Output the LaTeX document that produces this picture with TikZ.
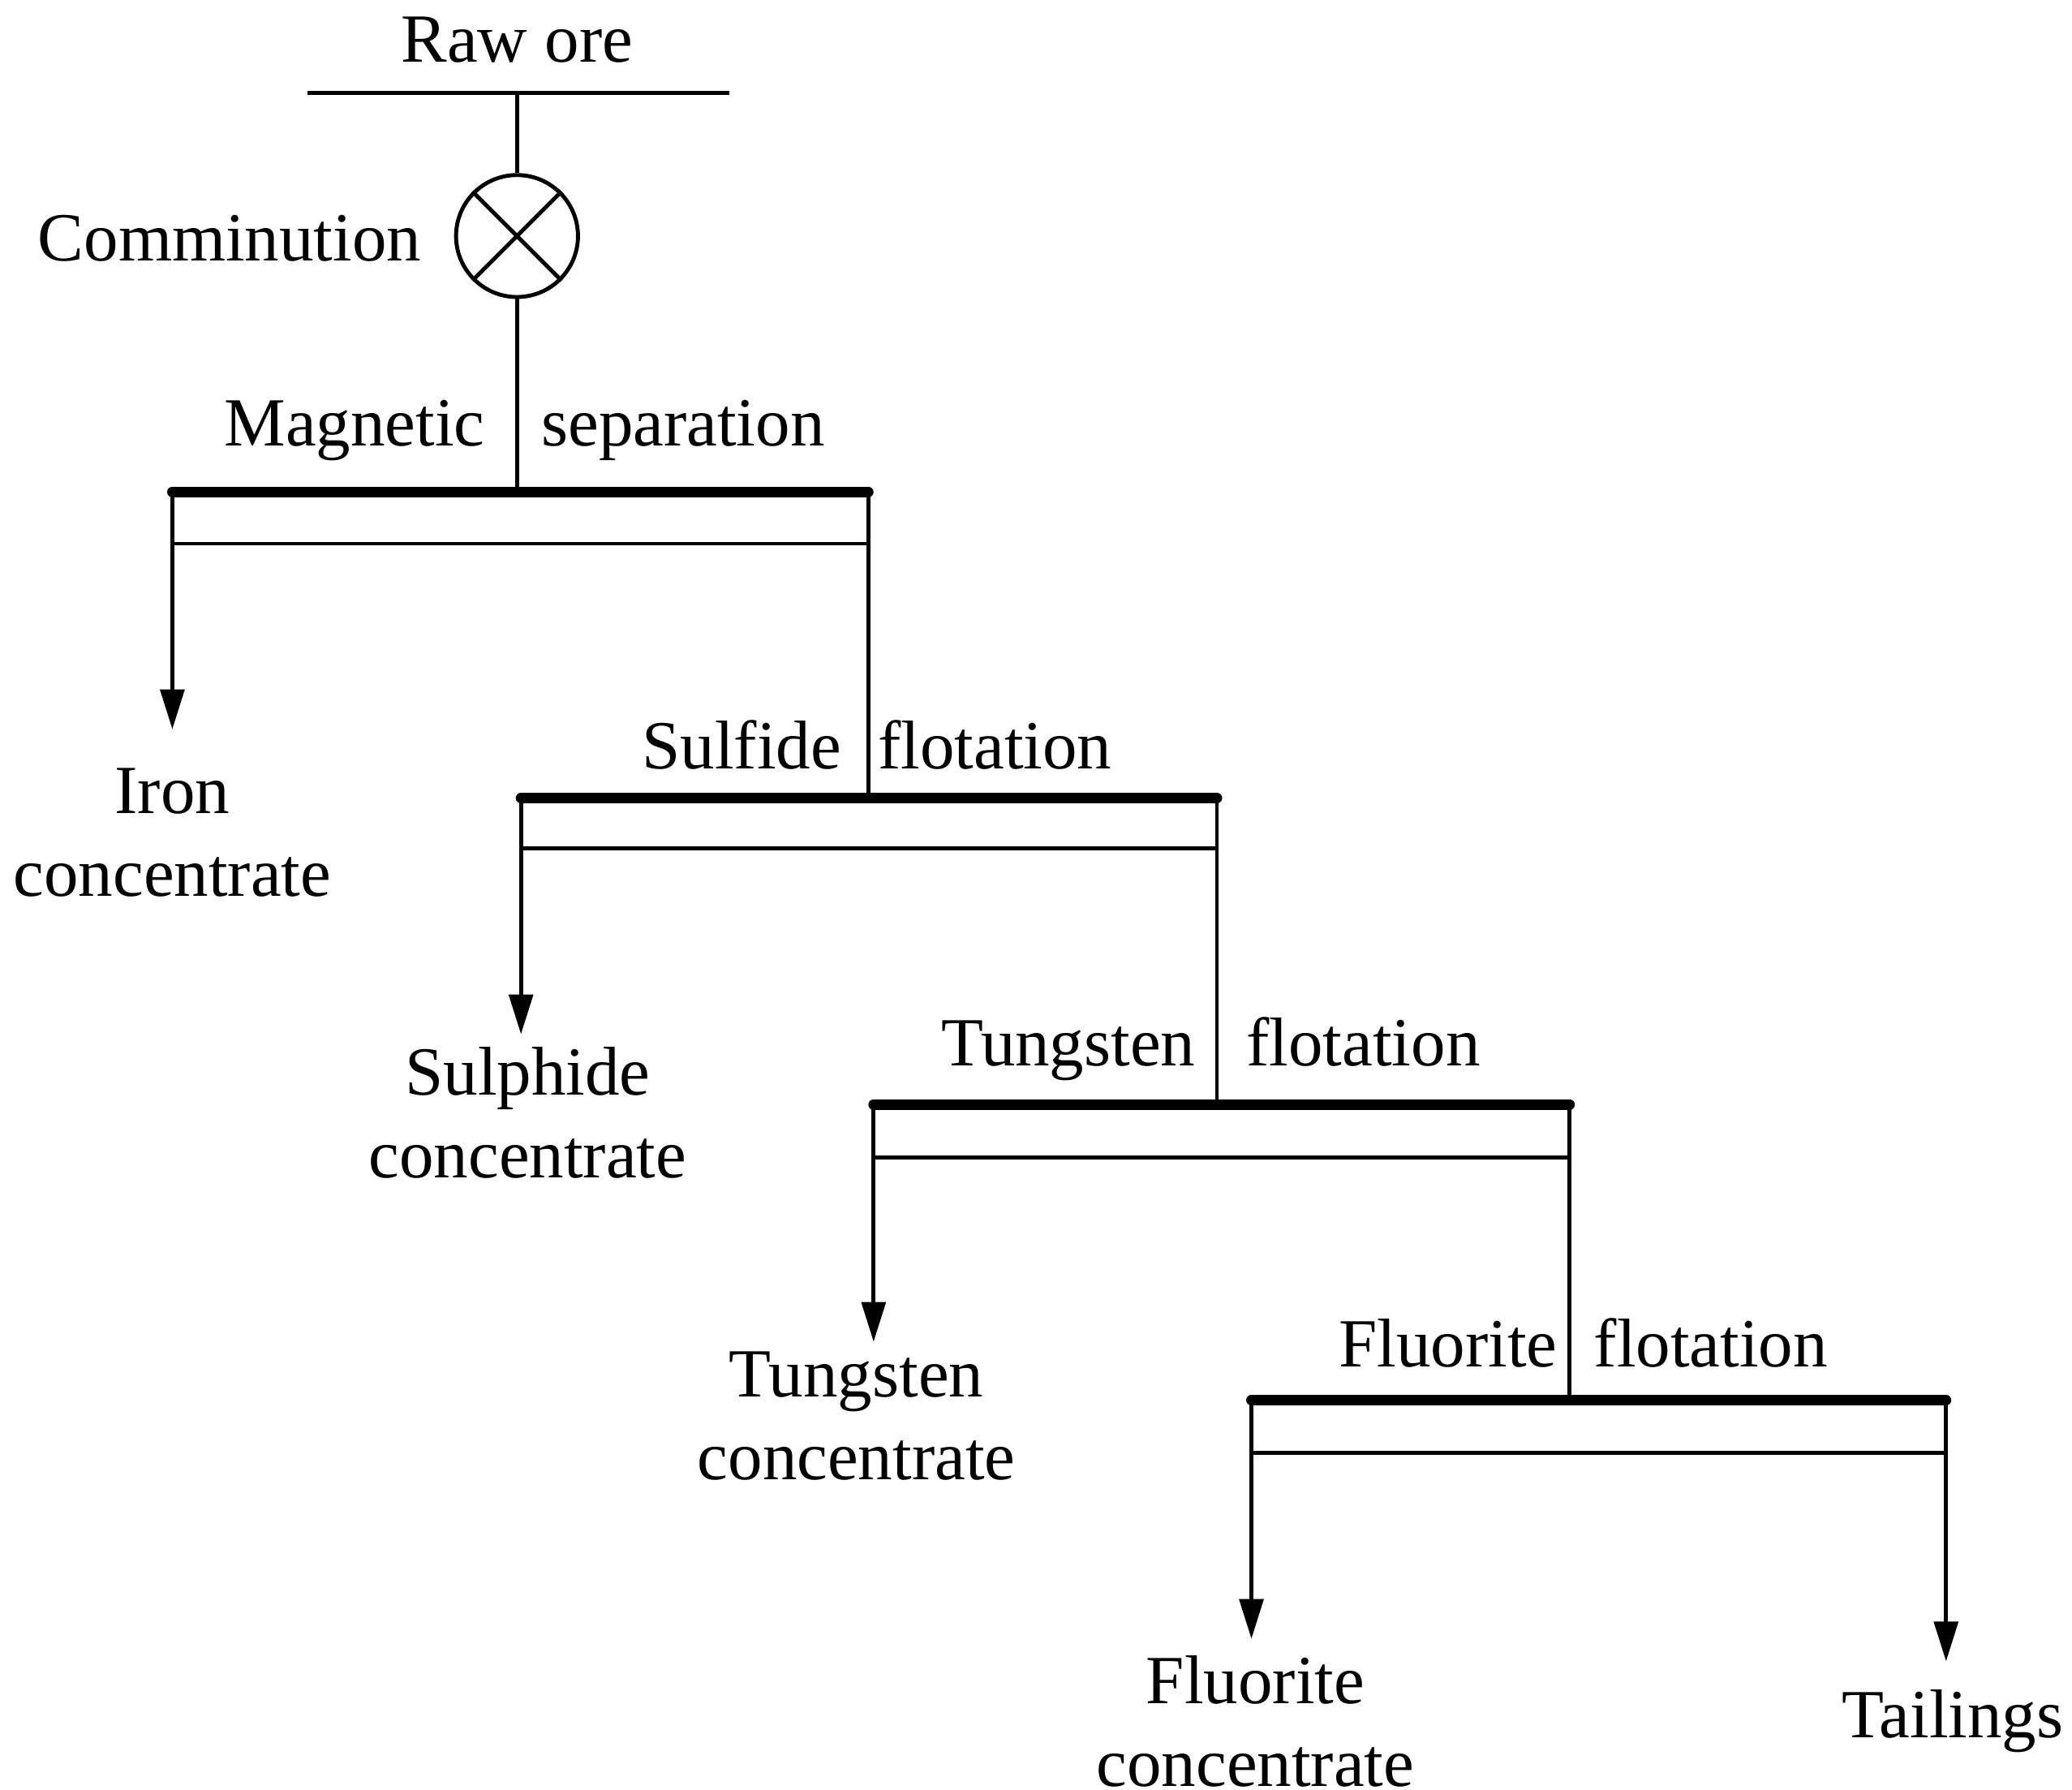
\documentclass[tikz,border=0pt]{standalone}
\usepackage{fontspec}
\setmainfont{Liberation Serif}
\usetikzlibrary{arrows.meta}
\begin{document}
\begin{tikzpicture}[x=0.02cm,y=-0.02cm,
  thin line/.style={line width=1.7pt},
  thick line/.style={line width=4.5pt},
  arr/.style={line width=1.7pt,-{Triangle[length=0.6cm,width=0.36cm]}},
  lbl/.style={font=\fontsize{29.6pt}{36pt}\selectfont,inner sep=0pt},
  two/.style={lbl,align=center,font=\fontsize{29.6pt}{35.5pt}\selectfont}]
\useasboundingbox (0,0) rectangle (1563,1350);
\node[lbl] (raw) at (390,30) {Raw ore};
\draw[thin line] (232,70) -- (550,70);
\node[circle,draw,line width=1.7pt,minimum size=1.84cm,inner sep=0pt] (c) at (390,178) {};
\draw[thin line] (c.north west) -- (c.south east) (c.north east) -- (c.south west);
\draw[thin line] (390,70) -- (c.north);
\node[lbl,anchor=east] (com) at (318,180) {Comminution};
\draw[thin line] (c.south) -- (390,371);
% stages
\foreach \xl/\xr/\yt/\yb/\ya/\yn/\ly/\la/\lb/\le/\lsb in {
  130/655/371/410/550/602/322/Magnetic/separation/366/408,
  393/918/602/640/780/833/566/Sulfide/flotation/635/662,
  659/1184/833/873/1012/1056/790/Tungsten/flotation/902/940,
  944/1468/1056/1096/1236/1253/1017/Fluorite/flotation/1175/1202}{
  \draw[thin line] (\xl,\yt) -- (\xl,\yb) -- (\xr,\yb) -- (\xr,\yt);
  \draw[thick line,line cap=round] (\xl,\yt) -- (\xr,\yt);
  \draw[arr] (\xl,\yb) -- (\xl,\ya);
  \node[lbl,anchor=base east] at (\le,\ly+14) {\la};
  \node[lbl,anchor=base west] at (\lsb,\ly+14) {\lb};
}
\draw[thin line] (655,410) -- (655,602);
\draw[thin line] (918,640) -- (918,833);
\draw[thin line] (1184,873) -- (1184,1056);
\draw[arr] (1468,1096) -- (1468,1253);
\node[two] (iron) at (130,628) {Iron\\concentrate};
\node[two] (sul) at (398,839) {Sulphide\\concentrate};
\node[two] (tun) at (646,1068) {Tungsten\\concentrate};
\node[two] (flu) at (947,1298) {Fluorite\\concentrate};
\node[lbl] (tail) at (1473,1298) {Tailings};
\end{tikzpicture}
\end{document}
